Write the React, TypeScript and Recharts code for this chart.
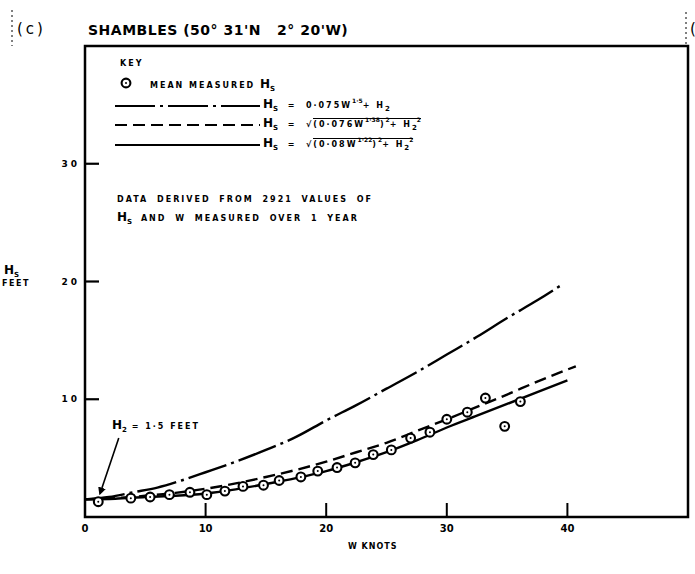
import React from "react";
import {
  ComposedChart,
  Line,
  Scatter,
  XAxis,
  YAxis,
  ReferenceArea,
  ReferenceLine,
} from "recharts";

// mean measured Hs (feet) against wind speed W (knots)
const measuredW = [1.1, 3.8, 5.4, 7.0, 8.7, 10.1, 11.6, 13.1, 14.8, 16.1, 17.9, 19.3, 20.9, 22.4, 23.9, 25.4, 27.0, 28.6, 30.0, 31.7, 33.2, 34.8, 36.1];
const measuredH = [1.3, 1.6, 1.7, 1.9, 2.1, 1.9, 2.2, 2.6, 2.7, 3.1, 3.4, 3.9, 4.2, 4.6, 5.3, 5.7, 6.7, 7.2, 8.3, 8.9, 10.1, 7.7, 9.8];

// dash-dot curve
const dashDotW = [0, 2, 4, 6, 8, 10, 12.5, 15, 17.5, 20, 22.5, 25, 27.5, 30, 32.5, 35, 37.5, 39.5];
const dashDotH = [1.5, 1.7, 2.1, 2.5, 3.1, 3.8, 4.7, 5.7, 6.8, 8.2, 9.5, 10.9, 12.3, 13.8, 15.3, 16.9, 18.4, 19.7];

// dashed curve
const dashedW = [0, 2.5, 5, 7.5, 10, 12.5, 15, 17.5, 20, 22.5, 25, 27.5, 30, 32.5, 35, 37.5, 40.7];
const dashedH = [1.5, 1.6, 1.8, 2.05, 2.4, 2.85, 3.4, 4.0, 4.7, 5.5, 6.3, 7.3, 8.3, 9.35, 10.4, 11.5, 12.8];

// solid curve
const solidW = [0, 2.5, 5, 7.5, 10, 12.5, 15, 17.5, 20, 22.5, 25, 27.5, 30, 32.5, 35, 37.5, 40];
const solidH = [1.5, 1.55, 1.7, 1.8, 2.0, 2.35, 2.8, 3.3, 3.9, 4.65, 5.5, 6.5, 7.6, 8.6, 9.6, 10.6, 11.6];

const xTicks = [0, 10, 20, 30, 40];
const yTicks = [10, 20, 30];

const zip = (w: number[], h: number[]) => w.map((v, i) => ({ w: v, h: h[i] }));

const measured = zip(measuredW, measuredH);
const dashDot = zip(dashDotW, dashDotH);
const dashed = zip(dashedW, dashedH);
const solid = zip(solidW, solidH);

const FONT = "'DejaVu Sans', Verdana, sans-serif";
const DASH_DOT = "40 5 3 5";
const DASHED = "12 6";

function MeasuredDot(props: any) {
  const { cx, cy } = props;
  if (cx == null || cy == null) return null;
  return (
    <g>
      <circle cx={cx} cy={cy} r={4.4} fill="#fff" stroke="#000" strokeWidth={2.1} />
      <circle cx={cx} cy={cy} r={1} fill="#000" />
    </g>
  );
}

function XTick(props: any) {
  const { x, y, payload } = props;
  return (
    <g>
      {payload.value !== 0 && (
        <line x1={x} x2={x} y1={y} y2={y - 14} stroke="#000" strokeWidth={2} />
      )}
      <text
        x={x}
        y={y + 15}
        textAnchor="middle"
        fontFamily={FONT}
        fontWeight="bold"
        fontSize={10}
        fill="#000"
      >
        {payload.value}
      </text>
    </g>
  );
}

function YTick(props: any) {
  const { x, y, payload } = props;
  return (
    <g>
      <line x1={x} x2={x + 14} y1={y} y2={y} stroke="#000" strokeWidth={2.2} />
      <text
        x={x - 5}
        y={y}
        dy="0.35em"
        textAnchor="end"
        fontFamily={FONT}
        fontWeight="bold"
        fontSize={9}
        letterSpacing={3}
        fill="#000"
      >
        {payload.value}
      </text>
    </g>
  );
}

const small: React.CSSProperties = {
  fontFamily: FONT,
  fontWeight: "bold",
  fontSize: 8,
  letterSpacing: 2,
  whiteSpace: "nowrap",
  position: "absolute",
  lineHeight: 1,
};

const big: React.CSSProperties = { fontSize: 12, letterSpacing: 0 };
const sub: React.CSSProperties = { fontSize: 7, verticalAlign: -3, letterSpacing: 0 };
const sup: React.CSSProperties = { fontSize: 6, verticalAlign: 5, letterSpacing: 0 };

function Hs() {
  return (
    <span>
      <span style={big}>H</span>
      <span style={sub}>S</span>
    </span>
  );
}

function KeySample({ dash }: { dash?: string }) {
  return (
    <svg width={145} height={6} style={{ position: "absolute", left: 115, top: -3 }}>
      <line x1={0} x2={145} y1={3} y2={3} stroke="#000" strokeWidth={2.2} strokeDasharray={dash} />
    </svg>
  );
}

function Overlay() {
  return (
    <>
      <svg width={695} height={60} style={{ position: "absolute", left: 0, top: 0 }}>
        <line x1={12} x2={12} y1={10} y2={46} stroke="#000" strokeWidth={1} strokeDasharray="2 3" />
        <line x1={686} x2={686} y1={12} y2={46} stroke="#000" strokeWidth={1} strokeDasharray="2 3" />
      </svg>
      <div style={{ ...small, left: 690, top: 22, fontSize: 15, fontWeight: "normal", letterSpacing: 0 }}>(</div>
      <div style={{ ...small, left: 17, top: 22, fontSize: 15, fontWeight: "normal", letterSpacing: 3 }}>(c)</div>
      <div style={{ ...small, left: 88, top: 23, fontSize: 14, letterSpacing: 0.5 }}>
        SHAMBLES (50° 31'N &nbsp;&nbsp;2° 20'W)
      </div>

      <div style={{ ...small, left: 120, top: 60 }}>KEY</div>
      <div style={{ ...small, left: 120, top: 78 }}>
        <span style={{ position: "absolute", left: 0, top: -1 }}>
          <svg width={12} height={12}>
            <circle cx={6} cy={6} r={4.4} fill="#fff" stroke="#000" strokeWidth={2.1} />
            <circle cx={6} cy={6} r={1} fill="#000" />
          </svg>
        </span>
        <span style={{ marginLeft: 30 }}>MEAN MEASURED </span>
        <Hs />
      </div>

      <div style={{ position: "absolute", left: 0, top: 106 }}>
        <KeySample dash={DASH_DOT} />
        <div style={{ ...small, left: 263, top: -8 }}>
          <Hs /> &nbsp;= &nbsp;0·075W<span style={sup}>1·5</span>+ H<span style={sub}>2</span>
        </div>
      </div>
      <div style={{ position: "absolute", left: 0, top: 125 }}>
        <KeySample dash={DASHED} />
        <div style={{ ...small, left: 263, top: -8 }}>
          <Hs /> &nbsp;= &nbsp;√
          <span style={{ borderTop: "1.5px solid #000", paddingTop: 1 }}>
            (0·076W<span style={sup}>1·38</span>)<span style={sup}>2</span>+ H<span style={sub}>2</span>
            <span style={sup}>2</span>
          </span>
        </div>
      </div>
      <div style={{ position: "absolute", left: 0, top: 145 }}>
        <KeySample />
        <div style={{ ...small, left: 263, top: -8 }}>
          <Hs /> &nbsp;= &nbsp;√
          <span style={{ borderTop: "1.5px solid #000", paddingTop: 1 }}>
            (0·08W<span style={sup}>1·22</span>)<span style={sup}>2</span>+ H<span style={sub}>2</span>
            <span style={sup}>2</span>
          </span>
        </div>
      </div>

      <div style={{ ...small, left: 117, top: 196, wordSpacing: 4 }}>DATA DERIVED FROM 2921 VALUES OF</div>
      <div style={{ ...small, left: 117, top: 211, wordSpacing: 4 }}>
        <Hs /> AND W MEASURED OVER 1 YEAR
      </div>

      <div style={{ ...small, left: 4, top: 264 }}>
        <Hs />
      </div>
      <div style={{ ...small, left: 2, top: 280, letterSpacing: 1.5 }}>FEET</div>

      <div style={{ ...small, left: 112, top: 419 }}>
        <span style={big}>H</span>
        <span style={sub}>2</span> = 1·5 FEET
      </div>

      <div style={{ ...small, left: 348, top: 543, letterSpacing: 1 }}>W KNOTS</div>
    </>
  );
}

export default function App() {
  return (
    <div style={{ position: "absolute", left: 0, top: 0, width: 695, height: 574, background: "#fff" }}>
      <ComposedChart
        width={695}
        height={574}
        margin={{ top: 46, right: 7, bottom: 27, left: 45 }}
      >
        <defs>
          <marker id="arrowHead" markerWidth={8} markerHeight={8} refX={6} refY={4} orient="auto" markerUnits="userSpaceOnUse">
            <path d="M0,0 L8,4 L0,8 Z" fill="#000" />
          </marker>
        </defs>
        <XAxis
          type="number"
          dataKey="w"
          domain={[0, 50]}
          ticks={xTicks}
          tick={XTick}
          tickLine={false}
          tickSize={0}
          tickMargin={0}
          axisLine={false}
          height={30}
          allowDataOverflow
        />
        <YAxis
          type="number"
          dataKey="h"
          domain={[0, 40]}
          ticks={yTicks}
          tick={YTick}
          tickLine={false}
          tickSize={0}
          tickMargin={0}
          axisLine={false}
          width={40}
          allowDataOverflow
        />
        <ReferenceArea x1={0} x2={50} y1={0} y2={40} fill="none" stroke="#000" strokeWidth={2.5} />
        <ReferenceLine
          segment={[{ x: 2.8, y: 6.7 }, { x: 1.25, y: 2.0 }]}
          stroke="#000"
          strokeWidth={1.6}
          markerEnd="url(#arrowHead)"
        />
        <Line data={dashDot} dataKey="h" type="monotone" stroke="#000" strokeWidth={2.4} strokeDasharray={DASH_DOT} dot={false} isAnimationActive={false} />
        <Line data={dashed} dataKey="h" type="monotone" stroke="#000" strokeWidth={2.4} strokeDasharray={DASHED} dot={false} isAnimationActive={false} />
        <Line data={solid} dataKey="h" type="monotone" stroke="#000" strokeWidth={2.4} dot={false} isAnimationActive={false} />
        <Scatter data={measured} dataKey="h" shape={MeasuredDot} isAnimationActive={false} />
      </ComposedChart>
      <Overlay />
    </div>
  );
}
